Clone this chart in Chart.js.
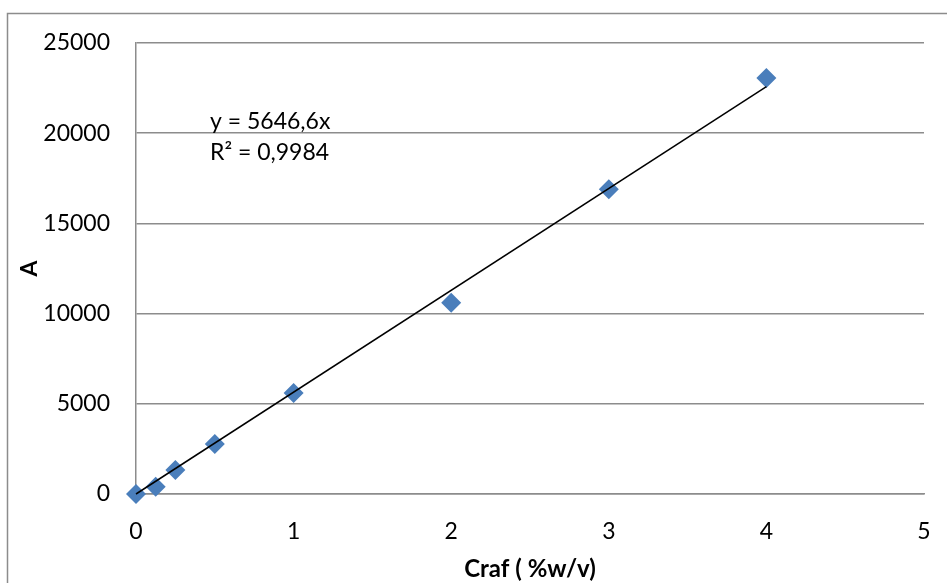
<!DOCTYPE html>
<html><head><meta charset="utf-8">
<script src="https://cdn.jsdelivr.net/npm/chart.js@4/dist/chart.umd.min.js"></script>
<style>html,body{margin:0;padding:0;background:#fff}#wrap{width:947px;height:583px}</style>
</head><body><div id="wrap"><canvas id="c" width="947" height="583"></canvas></div>
<script>
const concentrations = [0, 0.125, 0.25, 0.5, 1, 2, 3, 4];
const areas = [0, 400, 1330, 2770, 5600, 10600, 16890, 23060];
const trendX = [0, 4];
const trendY = [0, 22586.4];
const yTicks = [0, 5000, 10000, 15000, 20000, 25000];
const xTicks = [0, 1, 2, 3, 4, 5];
const equationText = ["y = 5646,6x", "R\u00b2 = 0,9984"];
const xTitle = "Craf ( %w/v)";
const yTitle = "A";

const FONT = "Lato, 'Liberation Sans', sans-serif";

const framePlugin = {
  id: 'frame',
  beforeDraw(chart) {
    const ctx = chart.ctx;
    ctx.save();
    ctx.fillStyle = '#fff';
    ctx.fillRect(0, 0, chart.width, chart.height);
    ctx.strokeStyle = '#8c8c8c';
    ctx.lineWidth = 1.5;
    ctx.strokeRect(7.5, 13.5, 1000, 700);
    ctx.restore();
  },
  afterDatasetsDraw(chart) {
    const ctx = chart.ctx;
    ctx.save();
    ctx.fillStyle = '#000';
    ctx.font = "23px " + FONT;
    ctx.textBaseline = 'middle';
    ctx.textAlign = 'left';
    ctx.fillText(equationText[0], 210, 122);
    ctx.fillText(equationText[1], 210, 153);
    ctx.restore();
  }
};

new Chart(document.getElementById('c'), {
  type: 'scatter',
  data: {
    datasets: [
      {
        label: 'A',
        data: concentrations.map((x, i) => ({x: x, y: areas[i]})),
        pointStyle: 'rectRot',
        pointRadius: 10,
        pointHoverRadius: 10,
        backgroundColor: '#4a7ebb',
        borderColor: '#4a7ebb',
        borderWidth: 0,
        showLine: false,
        clip: false,
        order: 2
      },
      {
        label: 'Trend',
        type: 'line',
        data: trendX.map((x, i) => ({x: x, y: trendY[i]})),
        borderColor: '#000',
        borderWidth: 1.5,
        pointRadius: 0,
        fill: false,
        clip: false,
        order: 1
      }
    ]
  },
  options: {
    responsive: false,
    animation: false,
    events: [],
    layout: {padding: {left: 0, right: 23, top: 43, bottom: 0}},
    plugins: {legend: {display: false}, tooltip: {enabled: false}},
    scales: {
      x: {
        type: 'linear',
        min: 0, max: 5,
        afterBuildTicks(s) { s.ticks = xTicks.map(v => ({value: v})); },
        afterFit(s) { s.height = 89; s.paddingRight = 0; s.paddingLeft = 0; },
        grid: {display: false, drawTicks: false},
        border: {display: true, color: '#8c8c8c', width: 1.5},
        ticks: {color: '#000', font: {family: FONT, size: 23}, padding: 24, maxRotation: 0},
        title: {display: true, text: xTitle, color: '#000', font: {family: FONT, size: 24, weight: 'bold'}, padding: {top: 0, bottom: -1}}
      },
      y: {
        type: 'linear',
        min: 0, max: 25000,
        afterBuildTicks(s) { s.ticks = yTicks.map(v => ({value: v})); },
        afterFit(s) { s.width = 136; s.paddingTop = 0; s.paddingBottom = 0; },
        grid: {display: true, color: '#8c8c8c', lineWidth: 1.5, drawTicks: false},
        border: {display: true, color: '#8c8c8c', width: 1.5},
        ticks: {color: '#000', font: {family: FONT, size: 23}, padding: 26, callback: v => String(v)},
        title: {display: true, text: yTitle, color: '#000', font: {family: FONT, size: 23, weight: 'bold'}, padding: {top: 16, bottom: 0}}
      }
    }
  },
  plugins: [framePlugin]
});
</script>
</body></html>
